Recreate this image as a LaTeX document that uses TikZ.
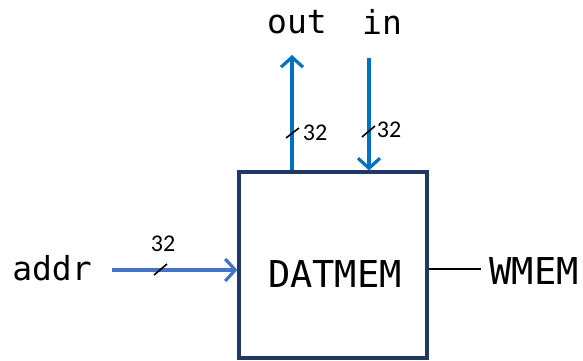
\documentclass[tikz,border=0pt]{standalone}
\usepackage{fontspec}
\newfontfamily\portfont{DejaVu Sans Mono}
\newfontfamily\widthfont{Carlito}
\usetikzlibrary{arrows.meta,positioning}
\definecolor{boxnavy}{HTML}{203864}
\definecolor{busblue}{HTML}{0070C0}
\definecolor{addrblue}{HTML}{4472C4}
\tikzset{
    memblock/.style ={
        shape=rectangle,
        draw=boxnavy,
        line width=3.2pt,
        minimum width=188pt,
        minimum height=186pt
    },
    portname/.style ={
        font=\portfont\fontsize{33}{33}\selectfont,
        inner sep=0pt
    },
    blockname/.style ={
        font=\portfont\fontsize{37}{37}\selectfont,
        inner sep=0pt
    },
    buswidth/.style ={
        font=\widthfont\fontsize{24}{24}\selectfont,
        inner sep=0pt
    },
    bus/.style ={
        line width=3.2pt,
        -{Straight Barb[length=10pt,width=22pt,line width=3.2pt]}
    },
    tick/.style ={
        line width=1.6pt
    }
}

\begin{document}
\begin{tikzpicture}[x=1pt,y=-1pt]
    \useasboundingbox (0,0) rectangle (583,361);
    \node[memblock] (mem) at(333,265) {};
    \node[blockname] (memname) at(335,274) {DATMEM};
    \node[portname] (out) at(297,22) {out};
    \node[portname] (in) at(382,22) {in};
    \node[portname] (addr) at(52,268) {addr};
    \node[blockname] (wmem) at(534,271) {WMEM};
    \coordinate (outtop) at(292,55);
    \coordinate (intop) at(369,58);
    \coordinate (addrleft) at(112,270);
    \coordinate (wmemleft) at(481,269);
    \draw[bus,busblue] (mem.north -| outtop) -- (outtop);
    \draw[bus,busblue] (intop) -- (intop |- mem.north);
    \draw[bus,addrblue] (addrleft) -- (addrleft -| mem.west);
    \draw[line width=1.8pt] (mem.east |- wmemleft) -- (wmemleft);
    \draw[tick] (286,138) -- (299,128);
    \draw[tick] (362,137) -- (375,126);
    \draw[tick] (154,275) -- (167,264);
    \node[buswidth] at(315,133) {32};
    \node[buswidth] at(389,130) {32};
    \node[buswidth] at(163,244) {32};
\end{tikzpicture}
\end{document}
